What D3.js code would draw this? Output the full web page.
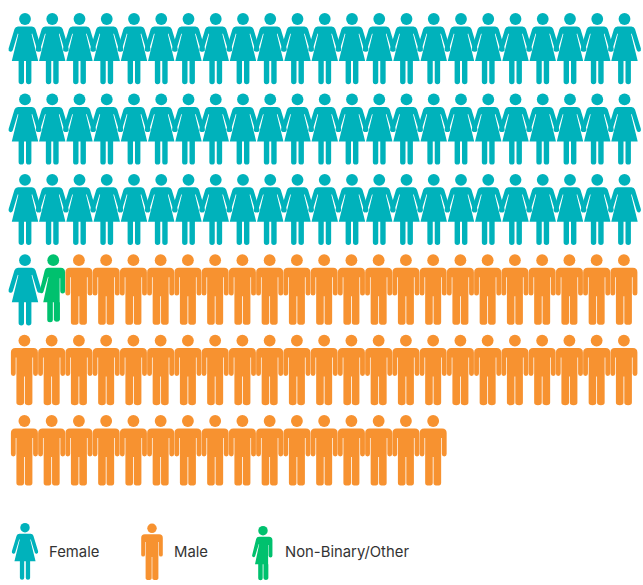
<!DOCTYPE html>
<html>
<head>
<meta charset="utf-8">
<script src="https://d3js.org/d3.v7.min.js"></script>
<style>
  html, body { margin: 0; padding: 0; background: #fff; }
  svg { display: block; }
</style>
</head>
<body>
<svg id="chart" width="643" height="585"></svg>
<script>
// people per category, in the order they fill the rows
const categories = ["Female", "Non-Binary/Other", "Male"];
const counts = [70, 1, 60];
const legendOrder = ["Female", "Male", "Non-Binary/Other"];

const colors = d3.scaleOrdinal()
    .domain(categories)
    .range(["#00b2bb", "#00c16e", "#f79230"]);

// icon outlines, origin at head centre
const femaleBody = "M-7,7.5 H7 Q9.6,7.5 10.5,10 L16.4,29.5 Q16.9,32 14.9,32.6 Q13,33 12.2,31 L7.2,14.5 L6.6,15 L13.2,42 H6.4 V62.5 A2.7,2.7 0 0 1 1,62.5 V42 H-1 V62.5 A2.7,2.7 0 0 1 -6.4,62.5 V42 H-13.2 L-6.6,15 L-7.2,14.5 L-12.2,31 Q-13,33 -14.9,32.6 Q-16.9,32 -16.4,29.5 L-10.5,10 Q-9.6,7.5 -7,7.5 Z";
const maleBody = "M-9,7.5 H9 Q13.5,7.5 13.5,12 V33 A2.4,2.4 0 0 1 8.7,33 V17 H8 V62 A3.8,2.6 0 0 1 0.4,62 V36 H-0.4 V62 A3.8,2.6 0 0 1 -8,62 V17 H-8.7 V33 A2.4,2.4 0 0 1 -13.5,33 V12 Q-13.5,7.5 -9,7.5 Z";
const otherBody = "M-4,7.5 H8.5 Q12.8,7.5 12.8,12 V31 A2.4,2.4 0 0 1 8,31 V18 H7.4 V42 H7.7 V59.5 A3.1,2.5 0 0 1 1.6,59.5 V42 H0.6 V59.5 A2.8,2.5 0 0 1 -5,59.5 V42 H-9 L-3.8,17 L-4.2,16.5 L-8.8,31.5 Q-9.6,33.5 -11.4,33 Q-13,32.4 -12.5,30.5 L-7.6,10.5 Q-6.8,7.5 -4,7.5 Z";
const headRadius = 5.9;

const bodies = { "Female": femaleBody, "Male": maleBody, "Non-Binary/Other": otherBody };
const headOffset = { "Female": 0, "Male": 0, "Non-Binary/Other": 1 };

const perRow = 23;
const people = categories.flatMap((c, i) => d3.range(counts[i]).map(() => c));
const rowCount = Math.ceil(people.length / perRow);

const svg = d3.select("#chart");

const x = d3.scalePoint().domain(d3.range(perRow)).range([25, 624.5]);
const y = d3.scalePoint().domain(d3.range(rowCount)).range([19, 421]);

function drawIcon(g) {
    g.append("circle")
        .attr("cx", d => headOffset[d.category])
        .attr("r", headRadius)
        .attr("fill", d => colors(d.category));
    g.append("path")
        .attr("d", d => bodies[d.category])
        .attr("fill", d => colors(d.category));
}

// grid of people, male icons sit half a pixel left of the column
svg.selectAll("g.person")
    .data(people.map((category, i) => ({ category, i })))
    .join("g")
    .attr("class", "person")
    .attr("transform", d => `translate(${x(d.i % perRow) - (d.category === "Male" ? 0.6 : 0)},${y(Math.floor(d.i / perRow))})`)
    .call(drawIcon);

// legend
const legendX = d3.scaleOrdinal().domain(legendOrder).range([25, 152, 262.2]);
const legendY = d3.scaleOrdinal().domain(legendOrder).range([527.7, 528.3, 530.7]);
const legendTextX = d3.scaleOrdinal().domain(legendOrder).range([49, 174, 285]);

const legend = svg.selectAll("g.legend")
    .data(legendOrder.map(category => ({ category })))
    .join("g")
    .attr("class", "legend");

legend.append("g")
    .attr("transform", d => `translate(${legendX(d.category)},${legendY(d.category)}) scale(0.8)`)
    .call(drawIcon);

legend.append("text")
    .attr("x", d => legendTextX(d.category))
    .attr("y", 556.7)
    .attr("font-family", "Inter, sans-serif")
    .attr("font-size", 14.85)
    .attr("fill", "#333")
    .text(d => d.category);
</script>
</body>
</html>
